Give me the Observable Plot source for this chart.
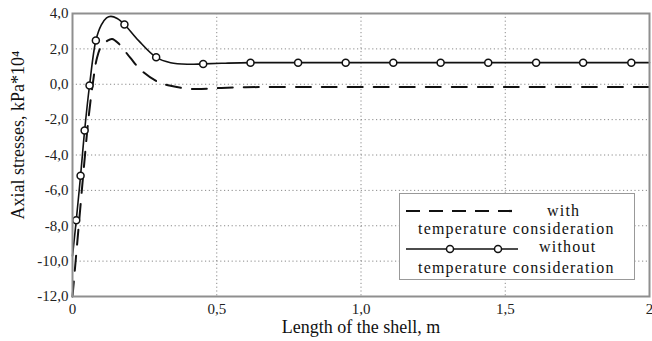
<!DOCTYPE html>
<html>
<head>
<meta charset="utf-8">
<script src="https://cdn.jsdelivr.net/npm/d3@7"></script>
<script src="https://cdn.jsdelivr.net/npm/@observablehq/plot@0.6"></script>
<style>
  body { margin: 0; background: #fff; }
  #wrap { position: relative; width: 652px; height: 341px; font-family: "Liberation Serif", "DejaVu Serif", serif; }
  #wrap svg text { font-family: "Liberation Serif", "DejaVu Serif", serif; }
  #legend { position: absolute; left: 399px; top: 193px; width: 234px; height: 85px; border: 1.5px solid #999; background: #fff; font-size: 16px; letter-spacing: 1.2px; color: #111; font-family: "Liberation Serif", "DejaVu Serif", serif; }
  #legend .row { position: absolute; white-space: nowrap; line-height: 14px; }
</style>
</head>
<body>
<div id="wrap"></div>
<script>
// ---- data ----
const xTicks = [0, 0.5, 1.0, 1.5, 2.0];
const xTickLabels = ["0", "0,5", "1,0", "1,5", "2"];
const yTicks = [-12, -10, -8, -6, -4, -2, 0, 2, 4];
const yTickLabels = ["-12,0", "-10,0", "-8,0", "-6,0", "-4,0", "-2,0", "0,0", "2,0", "4,0"];

// without temperature consideration (solid, circles)
const withoutX = [0, 0.013, 0.028, 0.042, 0.059, 0.081, 0.100, 0.118, 0.133, 0.155, 0.180, 0.230, 0.290, 0.340, 0.400, 0.453, 0.530, 0.617, 0.782, 0.947, 1.112, 1.276, 1.441, 1.607, 1.770, 1.937, 2.0];
const withoutY = [-9.7, -7.69, -5.17, -2.62, -0.07, 2.47, 3.35, 3.75, 3.84, 3.72, 3.38, 2.45, 1.52, 1.22, 1.13, 1.15, 1.19, 1.22, 1.22, 1.22, 1.22, 1.22, 1.22, 1.22, 1.22, 1.22, 1.22];
const markerX = [0.013, 0.028, 0.042, 0.059, 0.081, 0.180, 0.290, 0.453, 0.617, 0.782, 0.947, 1.112, 1.276, 1.441, 1.607, 1.770, 1.937];
const markerY = [-7.69, -5.17, -2.62, -0.07, 2.47, 3.38, 1.52, 1.15, 1.22, 1.22, 1.22, 1.22, 1.22, 1.22, 1.22, 1.22, 1.22];

// with temperature consideration (dashed)
const withX = [0, 0.020, 0.040, 0.055, 0.070, 0.085, 0.100, 0.120, 0.137, 0.160, 0.200, 0.236, 0.293, 0.340, 0.420, 0.500, 0.600, 0.800, 1.0, 1.5, 2.0];
const withY = [-12.0, -8.3, -4.6, -2.0, 0.0, 1.5, 2.15, 2.45, 2.56, 2.3, 1.5, 0.82, 0.16, -0.09, -0.27, -0.22, -0.17, -0.15, -0.15, -0.15, -0.15];

const xLabel = "Length of the shell, m";
const yLabel = "Axial stresses, kPa*10\u2074";
const legendLabels = ["with", "temperature consideration", "without", "temperature consideration"];

// ---- build ----
const withoutData = withoutX.map((x, i) => ({x, y: withoutY[i]}));
const markerData = markerX.map((x, i) => ({x, y: markerY[i]}));
const withData = withX.map((x, i) => ({x, y: withY[i]}));

const chart = Plot.plot({
  width: 652,
  height: 341,
  marginLeft: 72,
  marginRight: 3,
  marginTop: 13,
  marginBottom: 45,
  style: { fontFamily: "'Liberation Serif', 'DejaVu Serif', serif", background: "#fff", color: "#222" },
  x: { domain: [0, 2] },
  y: { domain: [-12, 4] },
  marks: [
    Plot.gridY(yTicks, { stroke: "#8a8a8a", strokeOpacity: 1, strokeDasharray: "1.2,2.6", strokeWidth: 1 }),
    Plot.gridX(xTicks.slice(1, -1), { stroke: "#8a8a8a", strokeOpacity: 1, strokeDasharray: "1.2,2.6", strokeWidth: 1 }),
    Plot.axisY(yTicks, { tickSize: 0, tickPadding: 4, tickFormat: (d, i) => yTickLabels[i], fontSize: 15, label: null, fill: "#222", style: "letter-spacing:1.1px" }),
    Plot.axisX(xTicks, { tickSize: 0, tickPadding: 7, tickFormat: (d, i) => xTickLabels[i], fontSize: 15, label: null, fill: "#222", style: "letter-spacing:1.1px" }),
    Plot.line(withData, { x: "x", y: "y", curve: "catmull-rom", stroke: "#111", strokeWidth: 2, strokeDasharray: "15,11" }),
    Plot.line(withoutData, { x: "x", y: "y", curve: "catmull-rom", stroke: "#111", strokeWidth: 1.6 }),
    Plot.dot(markerData, { x: "x", y: "y", r: 3.5, fill: "#fff", stroke: "#111", strokeWidth: 1.5 }),
    Plot.frame({ stroke: "#8f8f8f", strokeWidth: 2 }),
    Plot.text([xLabel], { frameAnchor: "bottom", textAnchor: "middle", dy: 36, text: d => d, fontSize: 18, fill: "#111", style: "letter-spacing:1px" }),
    Plot.text([yLabel], { frameAnchor: "left", textAnchor: "middle", dx: -54, dy: -20, rotate: -90, text: d => d, fontSize: 18, fill: "#111", style: "letter-spacing:0.3px" })
  ]
});

const wrap = document.getElementById("wrap");
wrap.appendChild(chart);

// legend
const legend = document.createElement("div");
legend.id = "legend";
legend.innerHTML = `
  <svg width="234" height="85" style="position:absolute;left:0;top:0">
    <line x1="6" x2="118" y1="17" y2="17" stroke="#111" stroke-width="2.2" stroke-dasharray="14,9"></line>
    <line x1="6" x2="118" y1="55" y2="55" stroke="#111" stroke-width="1.6"></line>
    <circle cx="50" cy="55" r="3.5" fill="#fff" stroke="#111" stroke-width="1.5"></circle>
    <circle cx="98" cy="55" r="3.5" fill="#fff" stroke="#111" stroke-width="1.5"></circle>
  </svg>
  <div class="row" style="left:147px;top:9.5px">${legendLabels[0]}</div>
  <div class="row" style="left:18px;top:27.5px">${legendLabels[1]}</div>
  <div class="row" style="left:139px;top:45.5px">${legendLabels[2]}</div>
  <div class="row" style="left:18px;top:66.5px">${legendLabels[3]}</div>
`;
wrap.appendChild(legend);
</script>
</body>
</html>
